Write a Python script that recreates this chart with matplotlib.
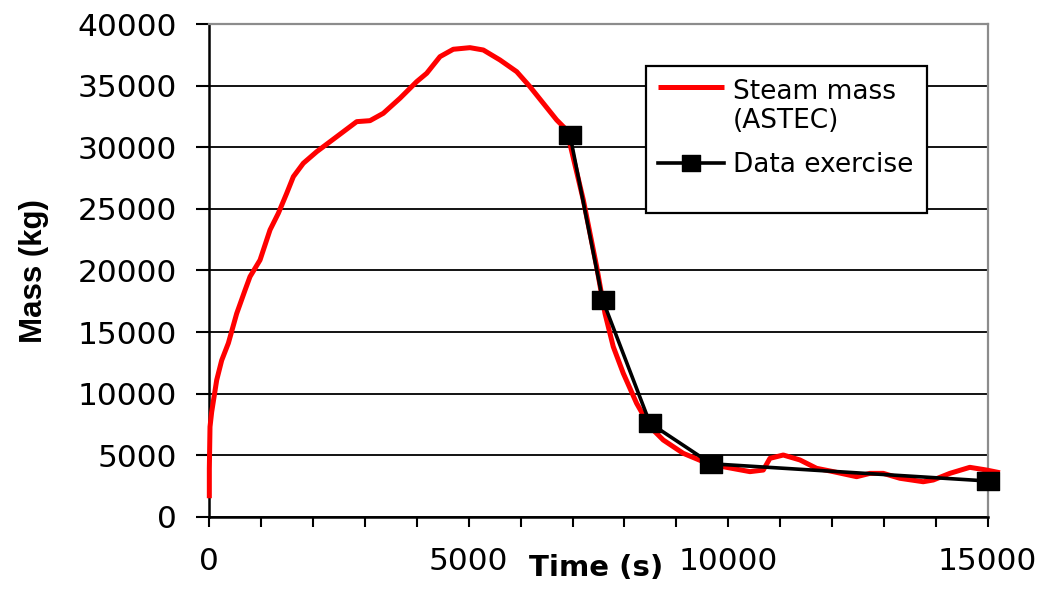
import matplotlib
matplotlib.use("Agg")
import matplotlib.pyplot as plt
from matplotlib.ticker import MultipleLocator
from matplotlib.patches import Rectangle
from matplotlib.lines import Line2D
from matplotlib.path import Path

plt.rcParams['font.family'] = ['DejaVu Sans']

# ASTEC steam mass curve (time in s, mass in kg)
astec_time = [0, 0, 13, 45, 142, 238, 367, 527, 688, 784, 977, 1170, 1330, 1491,
              1619, 1811, 2069, 2455, 2840, 3096, 3353, 3674, 3996, 4189, 4445,
              4701, 5023, 5280, 5601, 5923, 6179, 6436, 6693, 6886, 7207, 7464,
              7624, 7784, 7977, 8234, 8490, 8747, 9132, 9518, 9903, 10418, 10675,
              10803, 11060, 11381, 11702, 12023, 12474, 12730, 12987, 13308,
              13757, 13950, 14270, 14655, 14977, 15235]
astec_mass = [1500, 3900, 7300, 8500, 11100, 12700, 14100, 16500, 18400, 19500,
              20850, 23300, 24650, 26270, 27620, 28710, 29650, 30870, 32090,
              32170, 32770, 33990, 35340, 36020, 37370, 37970, 38100, 37910,
              37100, 36150, 34930, 33580, 32230, 31410, 25730, 20310, 16520,
              13810, 11650, 9210, 7310, 6230, 5150, 4470, 4060, 3660, 3790,
              4740, 5010, 4610, 3930, 3660, 3250, 3520, 3520, 3120, 2840, 2980,
              3520, 4010, 3790, 3570]

# Exercise data points
exercise_time = [6950, 7580, 8490, 9670, 15000]
exercise_mass = [31000, 17600, 7600, 4300, 2900]

series_labels = ['Steam mass\n(ASTEC)', 'Data exercise']

W, H = 1043, 595
fig = plt.figure(figsize=(W / 100, H / 100), dpi=100)
ax = fig.add_axes([0.2007, 0.1316, 0.7463, 0.8276])


def fx(px):
    return px / W


def fy(py):
    return 1 - py / H


# slightly wide square marker
wide_square = Path([(-0.6, -0.5), (0.6, -0.5), (0.6, 0.5), (-0.6, 0.5), (-0.6, -0.5)],
                   [Path.MOVETO, Path.LINETO, Path.LINETO, Path.LINETO, Path.CLOSEPOLY])

ax.plot(astec_time, astec_mass, color='#ff0000', lw=3.6, clip_on=False,
        solid_capstyle='butt', solid_joinstyle='round', zorder=3)
ax.plot(exercise_time, exercise_mass, color='black', lw=2.6, marker=wide_square,
        markersize=15.6, clip_on=False, zorder=4)

ax.set_xlim(0, 15000)
ax.set_ylim(0, 40000)
ax.xaxis.set_major_locator(MultipleLocator(5000))
ax.xaxis.set_minor_locator(MultipleLocator(1000))
ax.yaxis.set_major_locator(MultipleLocator(5000))

ax.grid(axis='y', color='black', lw=1.3, zorder=1)
ax.set_axisbelow(True)

for side in ('top', 'right'):
    ax.spines[side].set_color('#8c8c8c')
    ax.spines[side].set_linewidth(1.6)
for side in ('left', 'bottom'):
    ax.spines[side].set_color('black')
    ax.spines[side].set_linewidth(1.8)

ax.tick_params(axis='x', which='both', direction='out', length=7.5, width=1.5,
               labelsize=22.5, pad=14)
ax.tick_params(axis='y', which='major', direction='out', length=9.5, width=1.5,
               labelsize=22.5, pad=14)

ax.set_xlabel('Time (s)', fontsize=21, fontweight='bold', va='top')
ax.xaxis.set_label_coords(0.4974, -0.0757)
ax.set_ylabel('Mass (kg)', fontsize=22.5, fontweight='bold',
              family=['Liberation Sans', 'DejaVu Sans'])
ax.yaxis.set_label_coords(-0.206, 0.499)

# legend box
fig.patches.append(Rectangle((fx(646), fy(213)), fx(927) - fx(646), fy(66) - fy(213),
                             transform=fig.transFigure, facecolor='white',
                             edgecolor='black', lw=1.6, zorder=5))
fig.lines.append(Line2D([fx(658), fx(724)], [fy(87), fy(87)], transform=fig.transFigure,
                        color='#ff0000', lw=3.6, solid_capstyle='butt', zorder=6))
fig.lines.append(Line2D([fx(658), fx(724)], [fy(163), fy(163)], transform=fig.transFigure,
                        color='black', lw=2.6, zorder=6))
fig.lines.append(Line2D([fx(691)], [fy(163)], transform=fig.transFigure,
                        color='black', marker=wide_square, markersize=13, lw=0, zorder=7))
fig.text(fx(733), fy(128), series_labels[0], fontsize=19, va='baseline', ha='left',
         linespacing=1.13, zorder=7)
fig.text(fx(733), fy(172), series_labels[1], fontsize=19, va='baseline', ha='left',
         zorder=7)

fig.savefig('out.png', dpi=100)
